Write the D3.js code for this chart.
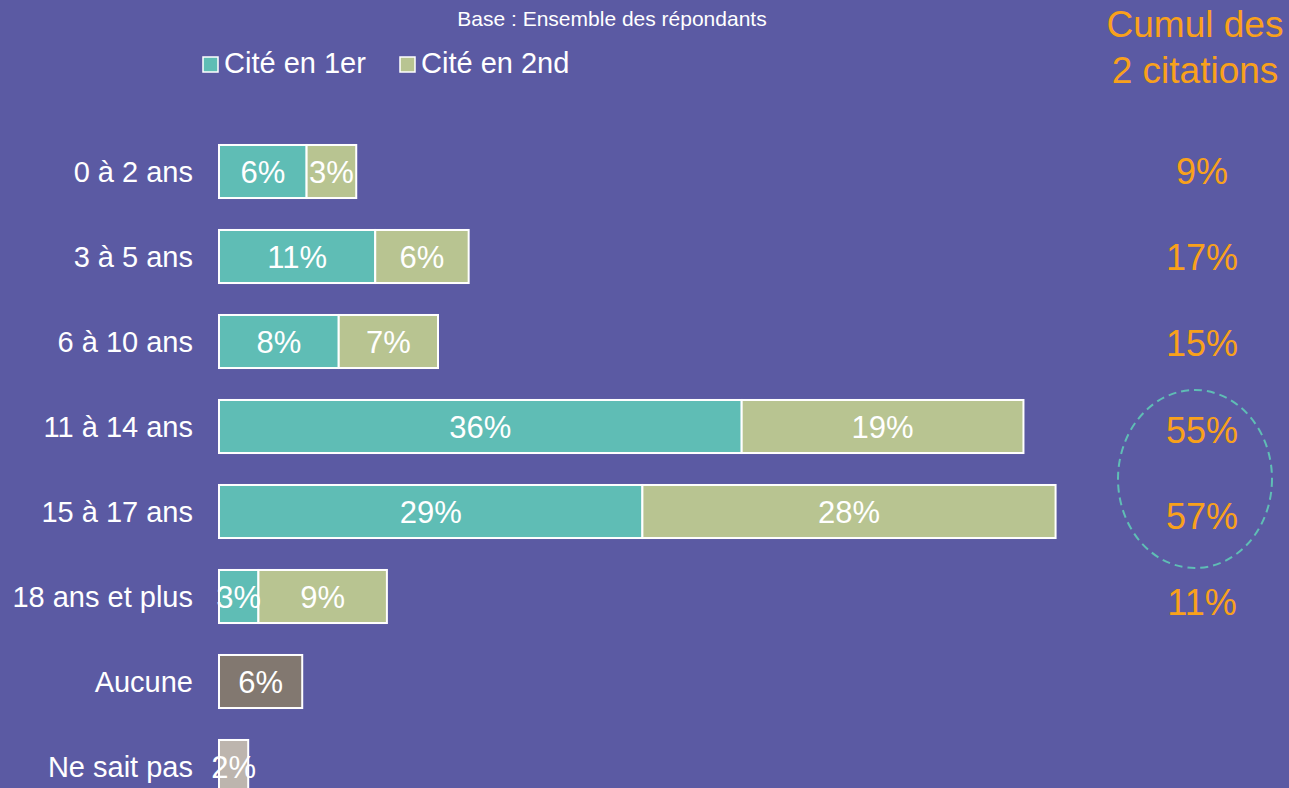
<!DOCTYPE html>
<html>
<head>
<meta charset="utf-8">
<script src="https://cdn.jsdelivr.net/npm/d3@7"></script>
<style>
  body { margin: 0; background: #5b5aa3; }
  svg { display: block; }
</style>
</head>
<body>
<svg id="chart"></svg>
<script>
var categories = ["0 à 2 ans", "3 à 5 ans", "6 à 10 ans", "11 à 14 ans", "15 à 17 ans", "18 ans et plus", "Aucune", "Ne sait pas"];
var cite1 = [6.0, 10.7, 8.2, 35.8, 29.0, 2.7, null, null];
var cite2 = [3.4, 6.4, 6.8, 19.3, 28.3, 8.8, null, null];
var autres = [null, null, null, null, null, null, 5.7, 2.0];
var cumul = [9, 17, 15, 55, 57, 11];
var seriesNames = ["Cité en 1er", "Cité en 2nd"];

var w = 1289;
var h = 788;
var bg = "#5b5aa3";
var colors = ["#5fbdb5", "#b8c491"];
var autresColors = ["#827870", "#bdb5ae"];
var orange = "#f9a11b";
var font = "'Liberation Sans', Arial, sans-serif";

var svg = d3.select("#chart")
    .attr("width", w)
    .attr("height", h);

svg.append("rect")
    .attr("width", w)
    .attr("height", h)
    .attr("fill", bg);

var x = d3.scaleLinear()
    .domain([0, 10])
    .range([219, 365]);

var y = d3.scaleBand()
    .domain(categories)
    .range([129, 809])
    .paddingInner(0.376)
    .paddingOuter(0.188);

// segments
var segs = [];
categories.forEach(function (c, i) {
    var x0 = 0;
    if (cite1[i] != null) {
        segs.push({ cat: c, x0: x0, v: cite1[i], color: colors[0] });
        x0 += cite1[i];
    }
    if (cite2[i] != null) {
        segs.push({ cat: c, x0: x0, v: cite2[i], color: colors[1] });
        x0 += cite2[i];
    }
    if (autres[i] != null) {
        segs.push({ cat: c, x0: x0, v: autres[i], color: autresColors[i - 6] });
    }
});

svg.selectAll("rect.seg")
    .data(segs)
    .enter()
    .append("rect")
    .attr("class", "seg")
    .attr("x", function (d) { return x(d.x0); })
    .attr("y", function (d) { return y(d.cat); })
    .attr("width", function (d) { return x(d.x0 + d.v) - x(d.x0); })
    .attr("height", y.bandwidth())
    .attr("fill", function (d) { return d.color; })
    .attr("stroke", "#ffffff")
    .attr("stroke-width", 2);

svg.selectAll("text.val")
    .data(segs)
    .enter()
    .append("text")
    .attr("class", "val")
    .text(function (d) { return Math.round(d.v) + "%"; })
    .attr("x", function (d) { return x(d.x0 + d.v / 2); })
    .attr("y", function (d) { return y(d.cat) + y.bandwidth() / 2 + 11; })
    .attr("text-anchor", "middle")
    .attr("font-family", font)
    .attr("font-size", "31px")
    .attr("fill", "#ffffff");

// category labels
svg.selectAll("text.cat")
    .data(categories)
    .enter()
    .append("text")
    .attr("class", "cat")
    .text(function (d) { return d; })
    .attr("x", 193)
    .attr("y", function (d) { return y(d) + y.bandwidth() / 2 + 10; })
    .attr("text-anchor", "end")
    .attr("font-family", font)
    .attr("font-size", "29px")
    .attr("fill", "#ffffff");

// cumul column
svg.append("text")
    .text("Cumul des")
    .attr("x", 1195)
    .attr("y", 37)
    .attr("text-anchor", "middle")
    .attr("font-family", font)
    .attr("font-size", "37px")
    .attr("fill", orange);

svg.append("text")
    .text("2 citations")
    .attr("x", 1195)
    .attr("y", 83)
    .attr("text-anchor", "middle")
    .attr("font-family", font)
    .attr("font-size", "37px")
    .attr("fill", orange);

var yc = d3.scalePoint()
    .domain(categories.slice(0, cumul.length))
    .range([171, 602]);

svg.selectAll("text.cumul")
    .data(cumul)
    .enter()
    .append("text")
    .attr("class", "cumul")
    .text(function (d) { return d + "%"; })
    .attr("x", 1202)
    .attr("y", function (d, i) { return yc(categories[i]) + 13; })
    .attr("text-anchor", "middle")
    .attr("font-family", font)
    .attr("font-size", "36px")
    .attr("fill", orange);

// dashed circle
svg.append("ellipse")
    .attr("cx", 1195)
    .attr("cy", 479)
    .attr("rx", 77)
    .attr("ry", 89)
    .attr("fill", "none")
    .attr("stroke", colors[0])
    .attr("stroke-width", 2)
    .attr("stroke-dasharray", "8,5");

// base text
svg.append("text")
    .text("Base : Ensemble des répondants")
    .attr("x", 612)
    .attr("y", 26)
    .attr("text-anchor", "middle")
    .attr("font-family", font)
    .attr("font-size", "21px")
    .attr("fill", "#ffffff");

// legend
var legX = [202, 399];
var leg = svg.selectAll("g.leg")
    .data(seriesNames)
    .enter()
    .append("g")
    .attr("class", "leg")
    .attr("transform", function (d, i) { return "translate(" + legX[i] + ",0)"; });

leg.append("rect")
    .attr("x", 1)
    .attr("y", 57)
    .attr("width", 15)
    .attr("height", 15)
    .attr("fill", function (d, i) { return colors[i]; })
    .attr("stroke", "#ffffff")
    .attr("stroke-width", 1.5);

leg.append("text")
    .text(function (d) { return d; })
    .attr("x", 22)
    .attr("y", 73)
    .attr("font-family", font)
    .attr("font-size", "29px")
    .attr("fill", "#ffffff");
</script>
</body>
</html>
